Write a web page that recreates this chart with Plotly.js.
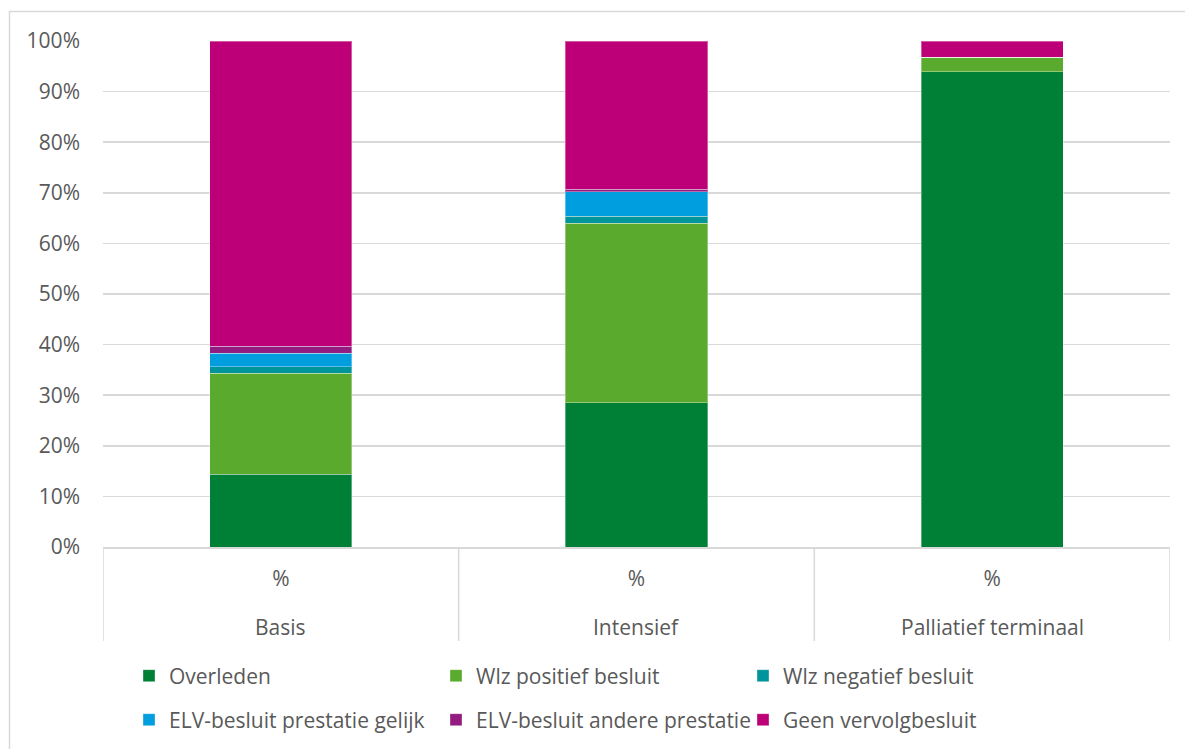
<!DOCTYPE html>
<html>
<head>
<meta charset="utf-8">
<script src="https://cdn.plot.ly/plotly-3.0.1.min.js"></script>
<style>html,body{margin:0;padding:0;background:#fff;}#chart{width:1185px;height:749px;}</style>
</head>
<body>
<div id="chart"></div>
<script>
// Data (percentages)
const groups = ['Basis', 'Intensief', 'Palliatief terminaal'];
const subLabels = ['%', '%', '%'];
const seriesNames = ['Overleden', 'Wlz positief besluit', 'Wlz negatief besluit',
  'ELV-besluit prestatie gelijk', 'ELV-besluit andere prestatie', 'Geen vervolgbesluit'];
const overleden = [14.4, 28.5, 93.9];
const wlzPositief = [19.9, 35.5, 2.9];
const wlzNegatief = [1.3, 1.35, 0];
const elvGelijk = [2.7, 4.85, 0];
const elvAndere = [1.4, 0.5, 0];
const geenVervolg = [60.3, 29.3, 3.2];
const seriesValues = [overleden, wlzPositief, wlzNegatief, elvGelijk, elvAndere, geenVervolg];
const colors = ['#007f37', '#5aaa2e', '#00959a', '#009ddf', '#921c80', '#be0078'];

const W = 1185, H = 749;
const L = 103, R = 15, T = 41, B = 202;
const pw = W - L - R, ph = H - T - B;
const px = x => (x - L) / pw;
const py = y => (H - B - y) / ph;

const traces = seriesNames.map((name, i) => ({
  type: 'bar',
  name: name,
  x: groups,
  y: seriesValues[i],
  marker: {color: colors[i], line: {color: 'rgba(255,255,255,0.35)', width: 1}},
  legend: i < 3 ? 'legend' : 'legend2',
  hoverinfo: 'name+y'
}));

const font = {family: '"Open Sans", "DejaVu Sans", sans-serif', size: 21, color: '#595959'};

const legendCommon = {
  orientation: 'h',
  xref: 'container', yref: 'container',
  xanchor: 'left', yanchor: 'middle',
  entrywidth: 262, entrywidthmode: 'pixels',
  font: font,
  bgcolor: 'rgba(0,0,0,0)',
  itemwidth: 30,
  traceorder: 'normal'
};

// group labels (outer level) and dividers between groups
const annotations = groups.map(g => ({
  text: g, x: g, xref: 'x', y: py(627), yref: 'paper',
  xanchor: 'center', yanchor: 'middle', showarrow: false, font: font
}));
const dividerPos = [-0.5, 0.5, 1.5, 2.5];
const dividers = dividerPos.map(v => ({
  type: 'line', xref: 'x', yref: 'paper', x0: v, x1: v, y0: 0, y1: py(641),
  line: {color: '#d9d9d9', width: 1.5}
}));

const layout = {
  width: W, height: H,
  margin: {l: L, r: R, t: T, b: B},
  paper_bgcolor: '#ffffff',
  plot_bgcolor: '#ffffff',
  font: font,
  barmode: 'stack',
  bargap: 0.6,
  showlegend: true,
  legend: Object.assign({}, legendCommon, {x: 129 / W, y: (H - 676) / H}),
  legend2: Object.assign({}, legendCommon, {x: 129 / W, y: (H - 720) / H}),
  xaxis: {
    type: 'category',
    range: [-0.5, 2.5],
    tickvals: groups,
    ticktext: subLabels,
    showgrid: false,
    showline: true,
    linecolor: '#d9d9d9',
    linewidth: 1.5,
    ticks: '',
    ticklabelstandoff: 12,
    tickfont: font,
    fixedrange: true
  },
  yaxis: {
    range: [0, 100],
    dtick: 10,
    ticksuffix: '%',
    showgrid: true,
    gridcolor: '#d9d9d9',
    gridwidth: 1.5,
    zeroline: false,
    showline: false,
    ticks: '',
    ticklabelstandoff: 22,
    tickfont: font,
    fixedrange: true
  },
  annotations: annotations,
  shapes: dividers.concat([{
    type: 'rect', xref: 'paper', yref: 'paper',
    x0: px(9.5), x1: px(1200), y0: py(11.5), y1: py(770),
    line: {color: '#d9d9d9', width: 1.5}, fillcolor: 'rgba(0,0,0,0)', layer: 'below'
  }])
};

Plotly.newPlot('chart', traces, layout, {displayModeBar: false, staticPlot: true});
</script>
</body>
</html>
